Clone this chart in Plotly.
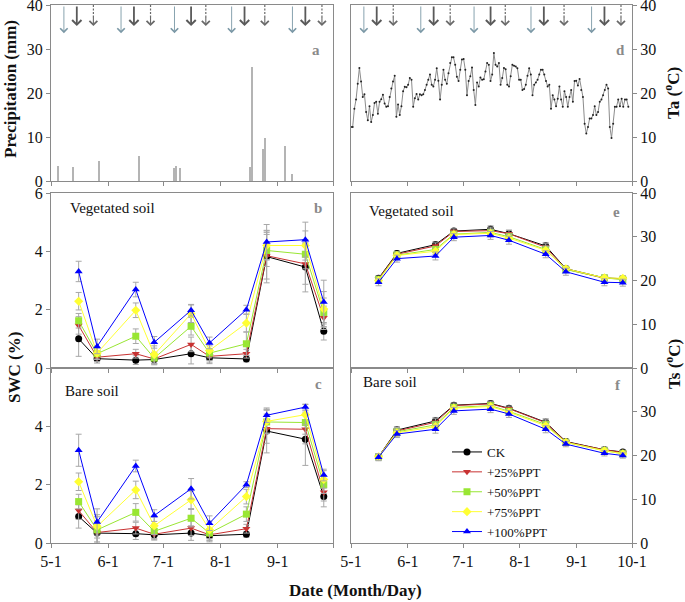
import numpy as np
import pandas as pd
import plotly.graph_objects as go
from plotly.subplots import make_subplots

# ---------------- data ----------------
month_ticks = ["2013-05-01", "2013-06-01", "2013-07-01", "2013-08-01", "2013-09-01", "2013-10-01"]
month_labels = ["5-1", "6-1", "7-1", "8-1", "9-1", "10-1"]

precip_dates = ["2013-05-05", "2013-05-13", "2013-05-27", "2013-06-18", "2013-07-07", "2013-07-08",
                "2013-07-10", "2013-08-17", "2013-08-18", "2013-08-24", "2013-08-25", "2013-09-05",
                "2013-09-09"]
precip_mm = [3.3, 3.2, 4.5, 5.6, 2.9, 3.3, 2.9, 3.2, 25.8, 7.2, 9.8, 7.9, 1.7]

# irrigation events (3 per month): first, second, third arrows
arrow1_dates = ["2013-05-08", "2013-06-08", "2013-07-07", "2013-08-07", "2013-09-09"]
arrow2_dates = ["2013-05-15", "2013-06-15", "2013-07-16", "2013-08-14", "2013-09-16"]
arrow3_dates = ["2013-05-24", "2013-06-24", "2013-07-24", "2013-08-25", "2013-09-25"]

ta_start, ta_end = "2013-05-01", "2013-09-29"
ta = [12.3, 12.3, 16.4, 18.5, 22.1, 25.7, 22.6, 19.1, 19.7, 15.7, 13.8, 17.0, 13.4, 15.0, 17.7,
      18.0, 15.3, 18.0, 18.6, 19.6, 17.6, 16.9, 17.0, 19.1, 21.0, 22.6, 23.9, 14.6, 17.4, 15.0,
      17.0, 20.4, 21.4, 21.3, 21.9, 23.4, 23.0, 16.9, 18.8, 19.8, 18.5, 19.7, 19.5, 19.7, 20.7,
      21.9, 23.0, 24.2, 21.9, 21.5, 23.0, 25.6, 22.8, 18.5, 21.9, 25.3, 23.0, 22.1, 24.5, 26.8,
      28.1, 28.1, 26.4, 23.7, 22.7, 25.3, 27.6, 27.7, 25.3, 19.5, 22.7, 23.8, 25.8, 20.7, 17.3,
      22.4, 21.5, 23.5, 23.0, 23.1, 24.9, 26.8, 26.4, 22.7, 24.2, 29.1, 26.4, 26.0, 26.8, 21.9,
      23.4, 25.7, 25.4, 21.9, 21.5, 23.8, 26.4, 26.2, 26.0, 25.6, 23.0, 23.0, 20.7, 20.9, 21.9,
      23.9, 25.6, 24.2, 19.5, 21.9, 22.4, 23.0, 24.2, 25.3, 25.3, 24.2, 22.7, 21.5, 21.9, 16.4,
      19.5, 18.5, 17.0, 18.7, 21.5, 18.5, 16.9, 20.4, 19.1, 16.9, 19.1, 20.7, 18.0, 22.7, 22.8,
      21.7, 23.2, 20.7, 19.1, 13.0, 10.8, 12.3, 14.2, 14.2, 15.0, 17.0, 15.0, 15.7, 18.0, 18.5,
      19.5, 20.7, 21.9, 21.0, 12.3, 9.8, 13.0, 16.9, 16.9, 18.5, 17.0, 18.7, 16.9, 18.5, 18.5,
      16.9]

sample_dates = ["2013-05-16", "2013-05-26", "2013-06-16", "2013-06-26", "2013-07-16",
                "2013-07-26", "2013-08-15", "2013-08-26", "2013-09-16", "2013-09-26"]

treatments = ["CK", "+25%PPT", "+50%PPT", "+75%PPT", "+100%PPT"]

swc_veg = {
    "CK":       [1.00, 0.32, 0.27, 0.29, 0.49, 0.35, 0.31, 3.82, 3.46, 1.26],
    "+25%PPT":  [1.46, 0.37, 0.49, 0.31, 0.81, 0.40, 0.49, 3.85, 3.57, 1.72],
    "+50%PPT":  [1.62, 0.49, 1.09, 0.34, 1.43, 0.51, 0.83, 4.03, 3.90, 1.90],
    "+75%PPT":  [2.29, 0.51, 1.98, 0.46, 1.86, 0.60, 1.54, 4.20, 4.20, 2.02],
    "+100%PPT": [3.31, 0.74, 2.69, 0.88, 1.98, 0.86, 2.00, 4.32, 4.40, 2.26],
}
swc_veg_err = {
    "CK":       [0.60, 0.15, 0.15, 0.15, 0.35, 0.20, 0.10, 0.90, 0.85, 0.30],
    "+25%PPT":  [0.30, 0.15, 0.15, 0.20, 0.25, 0.20, 0.15, 0.80, 0.70, 0.40],
    "+50%PPT":  [0.25, 0.20, 0.25, 0.20, 0.30, 0.25, 0.40, 0.55, 0.50, 0.50],
    "+75%PPT":  [0.30, 0.20, 0.25, 0.30, 0.30, 0.25, 0.30, 0.50, 0.50, 0.60],
    "+100%PPT": [0.35, 0.25, 0.25, 0.20, 0.20, 0.20, 0.15, 0.60, 0.60, 0.75],
}
swc_bare = {
    "CK":       [0.91, 0.34, 0.32, 0.28, 0.34, 0.25, 0.30, 3.84, 3.56, 1.59],
    "+25%PPT":  [1.11, 0.36, 0.51, 0.30, 0.51, 0.28, 0.49, 3.92, 3.90, 1.74],
    "+50%PPT":  [1.42, 0.45, 1.05, 0.40, 0.85, 0.34, 0.99, 4.15, 4.13, 2.00],
    "+75%PPT":  [2.10, 0.57, 1.82, 0.59, 1.48, 0.45, 1.59, 4.17, 4.40, 2.18],
    "+100%PPT": [3.18, 0.72, 2.64, 0.94, 1.86, 0.68, 2.00, 4.38, 4.66, 2.33],
}
swc_bare_err = {
    "CK":       [0.40, 0.30, 0.20, 0.15, 0.25, 0.15, 0.10, 0.75, 0.90, 0.35],
    "+25%PPT":  [0.30, 0.40, 0.20, 0.20, 0.25, 0.20, 0.15, 0.50, 0.50, 0.30],
    "+50%PPT":  [0.25, 0.45, 0.30, 0.25, 0.30, 0.30, 0.25, 0.40, 0.40, 0.30],
    "+75%PPT":  [0.30, 0.40, 0.30, 0.30, 0.30, 0.30, 0.25, 0.40, 0.35, 0.30],
    "+100%PPT": [0.55, 0.45, 0.20, 0.20, 0.35, 0.25, 0.10, 0.25, 0.10, 0.20],
}
ts_veg = {
    "CK":       [20.5, 26.2, 28.2, 31.3, 31.7, 30.7, 27.9, 22.7, 20.6, 20.4],
    "+25%PPT":  [20.4, 26.0, 27.9, 31.2, 31.4, 30.7, 27.6, 22.6, 20.5, 20.4],
    "+50%PPT":  [20.2, 25.8, 27.1, 30.6, 31.0, 30.0, 27.1, 22.5, 20.6, 20.2],
    "+75%PPT":  [20.0, 25.7, 26.7, 30.5, 30.8, 29.7, 26.9, 22.7, 20.6, 20.5],
    "+100%PPT": [19.6, 25.0, 25.6, 29.9, 30.3, 29.2, 26.0, 22.0, 19.6, 19.5],
}
ts_veg_err = {
    "CK":       [0.6, 0.6, 0.7, 0.6, 0.8, 0.8, 0.8, 0.6, 0.6, 0.6],
    "+25%PPT":  [0.6, 0.6, 0.7, 0.6, 0.8, 0.8, 0.8, 0.6, 0.6, 0.6],
    "+50%PPT":  [0.6, 0.6, 0.7, 0.6, 0.8, 0.8, 0.8, 0.6, 0.6, 0.6],
    "+75%PPT":  [0.6, 0.6, 0.7, 0.6, 0.8, 0.8, 0.8, 0.6, 0.6, 0.6],
    "+100%PPT": [0.8, 0.8, 0.9, 0.8, 0.9, 0.9, 0.8, 0.8, 0.8, 0.8],
}
ts_bare = {
    "CK":       [19.7, 25.8, 27.9, 31.5, 31.9, 30.8, 27.6, 23.2, 21.3, 20.8],
    "+25%PPT":  [19.7, 25.6, 27.6, 31.4, 31.8, 30.7, 27.5, 23.1, 21.3, 20.7],
    "+50%PPT":  [19.7, 25.4, 27.0, 31.0, 31.4, 30.1, 27.1, 23.0, 21.1, 20.4],
    "+75%PPT":  [19.7, 25.2, 26.6, 30.8, 31.2, 29.9, 26.8, 23.0, 21.1, 20.4],
    "+100%PPT": [19.6, 24.9, 26.0, 30.2, 30.6, 29.5, 26.0, 22.6, 20.5, 20.0],
}
ts_bare_err = {
    "CK":       [0.7, 0.8, 0.8, 0.6, 0.6, 0.6, 0.8, 0.6, 0.6, 0.5],
    "+25%PPT":  [0.7, 0.8, 0.8, 0.6, 0.6, 0.6, 0.8, 0.6, 0.6, 0.5],
    "+50%PPT":  [0.7, 0.8, 0.8, 0.6, 0.6, 0.6, 0.8, 0.6, 0.6, 0.5],
    "+75%PPT":  [0.7, 0.8, 0.8, 0.6, 0.6, 0.6, 0.8, 0.6, 0.6, 0.5],
    "+100%PPT": [0.8, 0.8, 0.9, 0.8, 0.8, 0.8, 0.8, 0.6, 0.6, 0.6],
}

colors = {"CK": "#000000", "+25%PPT": "#c83232", "+50%PPT": "#99e633",
          "+75%PPT": "#ffff33", "+100%PPT": "#0000ff"}
symbols = {"CK": "circle", "+25%PPT": "triangle-down", "+50%PPT": "square",
           "+75%PPT": "diamond", "+100%PPT": "triangle-up"}

# ---------------- figure ----------------
FONT = "Liberation Serif, Times New Roman, serif"
W, H = 685, 602
fig = make_subplots(rows=3, cols=2)

ta_dates = pd.date_range(ta_start, ta_end, periods=len(ta))

fig.add_trace(go.Bar(x=pd.to_datetime(precip_dates), y=precip_mm, width=0.8 * 86400000,
                     marker=dict(color="#b4b4b4", line=dict(width=0)), showlegend=False),
              row=1, col=1)
fig.add_trace(go.Scatter(x=ta_dates, y=ta, mode="lines+markers",
                         line=dict(color="#8c8c8c", width=1),
                         marker=dict(color="#222222", size=2), showlegend=False),
              row=1, col=2)

panels = [(swc_veg, swc_veg_err, 2, 1), (ts_veg, ts_veg_err, 2, 2),
          (swc_bare, swc_bare_err, 3, 1), (ts_bare, ts_bare_err, 3, 2)]
for vals, errs, r, c in panels:
    for t in treatments:
        fig.add_trace(go.Scatter(
            x=pd.to_datetime(sample_dates), y=vals[t], mode="lines+markers", name=t,
            line=dict(color=colors[t], width=1),
            marker=dict(color=colors[t], symbol=symbols[t], size=7, line=dict(width=0)),
            error_y=dict(type="data", array=errs[t], color="#a8a8a8", thickness=1, width=3),
            showlegend=(r == 3 and c == 2)), row=r, col=c)

xl, xr = 51 / W, 333 / W
xl2, xr2 = 351 / W, 632 / W
def py(p):
    return 1 - p / H
rows_dom = [(py(181), py(5)), (py(368), py(193)), (py(543), py(368))]

axis_common = dict(showline=True, mirror=True, linecolor="#8a8a8a", linewidth=1,
                   showgrid=False, zeroline=False, ticks="outside", ticklen=4,
                   tickcolor="#8a8a8a", automargin=False, ticklabeloverflow="allow",
                   tickfont=dict(family=FONT, size=16, color="#111"))

for i in range(6):
    r, c = i // 2, i % 2
    xa = "xaxis" if i == 0 else f"xaxis{i + 1}"
    ya = "yaxis" if i == 0 else f"yaxis{i + 1}"
    xdom = [xl, xr] if c == 0 else [xl2, xr2]
    labels = month_labels if c == 1 else month_labels[:-1] + [""]
    fig.layout[xa].update(domain=xdom, type="date", range=["2013-05-01", "2013-10-01"],
                          tickvals=month_ticks, ticktext=labels,
                          showticklabels=(r == 2), **axis_common)
    if c == 0:
        if r == 0:
            yr, tv = [0, 40], [0, 10, 20, 30, 40]
        elif r == 1:
            yr, tv = [0, 6], [0, 2, 4, 6]
        else:
            yr, tv = [0, 6], [0, 2, 4]
        fig.layout[ya].update(domain=list(rows_dom[r]), range=yr, tickvals=tv, **axis_common)
    else:
        tv = [0, 10, 20, 30, 40] if r < 2 else [0, 10, 20, 30]
        fig.layout[ya].update(domain=list(rows_dom[r]), range=[0, 40], tickvals=tv,
                              side="right", **axis_common)

# irrigation arrows on panels a and d
for xref, yref in [("x", "y"), ("x2", "y2")]:
    for d in arrow1_dates:
        fig.add_annotation(x=d, y=33.6, ax=0, ay=40, axref="pixel", ayref=yref,
                           xref=xref, yref=yref, showarrow=True, arrowhead=4, arrowsize=1.6,
                           arrowwidth=0.9, arrowcolor="#7b98a6", text="")
    for d in arrow2_dates:
        fig.add_annotation(x=d, y=35.2, ax=0, ay=40, axref="pixel", ayref=yref,
                           xref=xref, yref=yref, showarrow=True, arrowhead=4, arrowsize=1.0,
                           arrowwidth=1.8, arrowcolor="#5a5a5a", text="")
    for d in arrow3_dates:
        fig.add_shape(type="line", x0=d, x1=d, y0=40, y1=37.2, xref=xref, yref=yref,
                      line=dict(color="#6a6a6a", width=1.2, dash="2px,1.5px"))
        fig.add_annotation(x=d, y=35.2, ax=0, ay=37.6, axref="pixel", ayref=yref,
                           xref=xref, yref=yref, showarrow=True, arrowhead=4, arrowsize=1.4,
                           arrowwidth=1.1, arrowcolor="#6a6a6a", text="")

# panel letters
for txt, x, y in [("a", 316, 50), ("b", 318, 208), ("c", 318, 384),
                  ("d", 620, 50), ("e", 616, 212), ("f", 618, 385)]:
    fig.add_annotation(x=x / W, y=py(y), xref="paper", yref="paper", text=f"<b>{txt}</b>",
                       xanchor="center", yanchor="middle",
                       showarrow=False, font=dict(family=FONT, size=15, color="#8a8a8a"))

# soil labels
for txt, x, y in [("Vegetated soil", 68, 208), ("Vegetated soil", 367, 211),
                  ("Bare soil", 63, 391), ("Bare soil", 361, 382)]:
    fig.add_annotation(x=x / W, y=py(y), xref="paper", yref="paper", text=txt,
                       xanchor="left", yanchor="middle", showarrow=False,
                       font=dict(family=FONT, size=15, color="#111"))

# axis titles
title_font = dict(family=FONT, size=17, color="#111")
for txt, x, y in [("<b>Precipitation (mm)</b>", 10, 89), ("<b>SWC (%)</b>", 14, 368),
                  ("<b>Ta (<sup>o</sup>C)</b>", 672, 93), ("<b>Ts (<sup>o</sup>C)</b>", 673, 364)]:
    fig.add_annotation(x=x / W, y=py(y), xref="paper", yref="paper", text=txt, textangle=-90,
                       xanchor="center", yanchor="middle", showarrow=False, font=title_font)
fig.add_annotation(x=355 / W, y=py(590), xref="paper", yref="paper",
                   xanchor="center", yanchor="middle",
                   text="<b>Date (Month/Day)</b>", showarrow=False, font=title_font)

fig.update_layout(
    width=W, height=H, margin=dict(l=0, r=0, t=0, b=0, autoexpand=False),
    paper_bgcolor="white", plot_bgcolor="white",
    font=dict(family=FONT, color="#111"),
    bargap=0,
    legend=dict(x=447 / W, y=py(437), xanchor="left", yanchor="top",
                bgcolor="rgba(0,0,0,0)", font=dict(family=FONT, size=13, color="#111"),
                itemwidth=30, tracegroupgap=0),
)

fig.write_html("out.html", config={"displayModeBar": False},
               post_script="document.body.style.margin='0';document.body.style.overflow='hidden';")
